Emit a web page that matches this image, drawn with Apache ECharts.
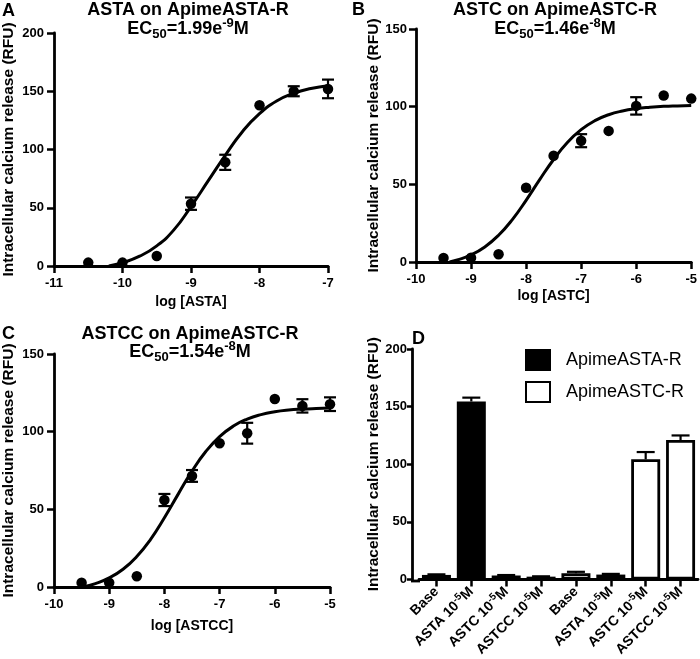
<!DOCTYPE html>
<html>
<head>
<meta charset="utf-8">
<script src="https://cdn.jsdelivr.net/npm/echarts@6/dist/echarts.min.js"></script>
<style>
  html, body { margin: 0; padding: 0; background: #fff; }
  #chartmain { width: 700px; height: 659px; }
</style>
</head>
<body>
<div id="chartmain"></div>
<script>
// Panel A: ASTA on ApimeASTA-R
var aDose = [-10.5, -10, -9.5, -9, -8.5, -8, -7.5, -7];
var aResp = [2.9, 2.9, 8.6, 53.5, 89, 138, 150, 152];
var aErr = [0, 0, 0, 5.3, 6.5, 0, 4.3, 8];
var aFitX = [-10.2, -10, -9.75, -9.5, -9.25, -9, -8.75, -8.5, -8.25, -8, -7.75, -7.5, -7.25, -7];
var aFitY = [0, 2.8, 8.4, 17.3, 31, 51, 73, 95, 115.3, 130.8, 141.6, 148.3, 152.4, 154.8];

// Panel B: ASTC on ApimeASTC-R
var bDose = [-9.5, -9, -8.5, -8, -7.5, -7, -6.5, -6, -5.5, -5];
var bResp = [2.6, 2.8, 5, 47.8, 68.4, 78.1, 84.4, 100.5, 107.2, 105.2];
var bErr = [0, 0, 0, 0, 0, 4.2, 0, 5.6, 0, 0];
var bFitX = [-9.39, -9.25, -9, -8.75, -8.5, -8.25, -8, -7.75, -7.5, -7.25, -7, -6.75, -6.5, -6.25, -6, -5.75, -5.5, -5.25, -5];
var bFitY = [0, 1.3, 4.6, 9.7, 17.2, 27.3, 39.7, 53.2, 66, 77, 85.2, 91, 94.8, 97.2, 98.7, 99.6, 100.2, 100.5, 100.7];

// Panel C: ASTCC on ApimeASTC-R
var cDose = [-9.5, -9, -8.5, -8, -7.5, -7, -6.5, -6, -5.5, -5];
var cResp = [2.8, 2.8, 6.9, 56, 71.5, 92.5, 99, 121, 116.6, 117.7];
var cErr = [0, 0, 0, 3.9, 3.8, 0, 6.7, 0, 4.3, 4.4];
var cFitX = [-9.47, -9.25, -9, -8.75, -8.5, -8.25, -8, -7.75, -7.5, -7.25, -7, -6.75, -6.5, -6.25, -6, -5.75, -5.5, -5.25, -5];
var cFitY = [0, 2.2, 5.9, 11.4, 19.6, 30.7, 44.6, 59.8, 74.6, 87.2, 96.8, 103.6, 108.1, 111, 112.8, 113.9, 114.5, 114.9, 115.2];

// Panel D: bars
var dCats = ['Base', 'ASTA 10-5M', 'ASTC 10-5M', 'ASTCC 10-5M', 'Base', 'ASTA 10-5M', 'ASTC 10-5M', 'ASTCC 10-5M'];
var dAstaR = [4, 154.5, 3.5, 2.5, '-', '-', '-', '-'];
var dAstcR = ['-', '-', '-', '-', 5.5, 4.3, 104.3, 121];
var dErr = [0.5, 3.3, 0.4, 0.3, 1.2, 0.6, 6.3, 4];

var yName = 'Intracellular calcium release (RFU)';
var FONT = '"Liberation Sans", Arial, sans-serif';

function pts(xs, ys) {
  var out = [];
  for (var i = 0; i < xs.length; i++) out.push([xs[i], ys[i]]);
  return out;
}
function errPts(xs, ys, es) {
  var out = [];
  for (var i = 0; i < xs.length; i++) {
    if (es[i] > 0) out.push([xs[i], ys[i], es[i]]);
  }
  return out;
}
function errorBar(capHalf, upOnly) {
  return function (params, api) {
    var x = api.value(0), y = api.value(1), e = api.value(2);
    var hi = api.coord([x, y + e]);
    var lo = api.coord([x, upOnly ? y : y - e]);
    var st = { stroke: '#000', lineWidth: 2.2 };
    var kids = [
      { type: 'line', shape: { x1: hi[0], y1: hi[1], x2: lo[0], y2: lo[1] }, style: st },
      { type: 'line', shape: { x1: hi[0] - capHalf, y1: hi[1], x2: hi[0] + capHalf, y2: hi[1] }, style: st }
    ];
    if (!upOnly) {
      kids.push({ type: 'line', shape: { x1: lo[0] - capHalf, y1: lo[1], x2: lo[0] + capHalf, y2: lo[1] }, style: st });
    }
    return { type: 'group', children: kids };
  };
}

var axisLine = { show: true, onZero: false, lineStyle: { color: '#000', width: 2.8 } };
function ticks(len) {
  return { show: true, inside: false, length: len, lineStyle: { color: '#000', width: 2.5 } };
}
var tickFont = { color: '#000', fontSize: 13, fontWeight: 'bold', fontFamily: FONT };
var xNameFont = { color: '#000', fontSize: 14, fontWeight: 'bold', fontFamily: FONT };
var yNameFont = { color: '#000', fontSize: 15.5, fontWeight: 'bold', fontFamily: FONT };

function xVal(idx, min, max, name, gap) {
  return {
    type: 'value', gridIndex: idx, min: min, max: max, interval: 1,
    name: name, nameLocation: 'middle', nameGap: gap, nameTextStyle: xNameFont,
    axisLine: axisLine, axisTick: ticks(7), splitLine: { show: false },
    axisLabel: Object.assign({ margin: 11 }, tickFont)
  };
}
function yVal(idx, max, gap, offset, tickLen, margin) {
  return {
    type: 'value', gridIndex: idx, min: 0, max: max, interval: 50, offset: offset || 0,
    name: yName, nameLocation: 'middle', nameGap: gap, nameTextStyle: yNameFont,
    axisLine: axisLine, axisTick: ticks(tickLen), splitLine: { show: false },
    axisLabel: Object.assign({ margin: margin }, tickFont)
  };
}

var rich = {
  m: { fontSize: 18, fontWeight: 'bold', color: '#000', lineHeight: 24, fontFamily: FONT },
  s: { fontSize: 13, fontWeight: 'bold', color: '#000', lineHeight: 12, verticalAlign: 'bottom', fontFamily: FONT },
  p: { fontSize: 13, fontWeight: 'bold', color: '#000', lineHeight: 12, verticalAlign: 'top', fontFamily: FONT }
};
function titleLine(text, cx, top) {
  return { text: text, left: cx, top: top, textAlign: 'center', padding: 0,
    textStyle: { fontSize: 18, fontWeight: 'bold', color: '#000', fontFamily: FONT } };
}
function ecLine(mant, expo, cx, top) {
  return { text: '{m|EC}{s|50}{m|=' + mant + 'e}{p|' + expo + '}{m|M}', left: cx, top: top,
    textAlign: 'center', padding: 0, textStyle: { rich: rich } };
}
function letter(t, x, y) {
  return { text: t, left: x, top: y, padding: 0,
    textStyle: { fontSize: 18, fontWeight: 'bold', color: '#000', fontFamily: FONT } };
}

function dosePanel(idx, dose, resp, err, fx, fy) {
  return [
    { type: 'line', xAxisIndex: idx, yAxisIndex: idx, data: pts(fx, fy), smooth: true,
      showSymbol: false, lineStyle: { color: '#000', width: 3 }, silent: true },
    { type: 'custom', xAxisIndex: idx, yAxisIndex: idx, data: errPts(dose, resp, err),
      renderItem: errorBar(6, false), silent: true },
    { type: 'scatter', xAxisIndex: idx, yAxisIndex: idx, data: pts(dose, resp),
      symbolSize: 10.5, itemStyle: { color: '#000', opacity: 1 }, silent: true }
  ];
}

var barSt = { borderColor: '#000', borderWidth: 2.8 };

var option = {
  backgroundColor: '#fff',
  animation: false,
  textStyle: { fontFamily: FONT },
  title: [
    letter('A', 2, 2), letter('B', 352, 1), letter('C', 2, 325), letter('D', 412, 330),
    titleLine('ASTA on ApimeASTA-R', 188, 1), ecLine('1.99', '-9', 188, 17),
    titleLine('ASTC on ApimeASTC-R', 555, 1), ecLine('1.46', '-8', 555, 17),
    titleLine('ASTCC on ApimeASTC-R', 190, 325), ecLine('1.54', '-8', 190, 340)
  ],
  grid: [
    { left: 50, top: 33, width: 278, height: 233 },
    { left: 416, top: 29, width: 277, height: 233 },
    { left: 50, top: 354, width: 280, height: 233 },
    { left: 419, top: 349, width: 279, height: 232 }
  ],
  xAxis: [
    xVal(0, -11, -7, 'log [ASTA]', 29),
    xVal(1, -10, -5, 'log [ASTC]', 27),
    xVal(2, -10, -5, 'log [ASTCC]', 32),
    {
      type: 'category', gridIndex: 3, data: dCats,
      axisLine: axisLine, axisTick: Object.assign({ alignWithLabel: true }, ticks(7)),
      splitLine: { show: false },
      axisLabel: {
        rotate: 45, margin: 10, interval: 0,
        formatter: function (v) {
          var m = v.match(/^(.*10)(-5)(M)$/);
          if (!m) return '{a|' + v + '}';
          return '{a|' + m[1] + '}{s|' + m[2] + '}{a|' + m[3] + '}';
        },
        rich: {
          a: { fontSize: 14, fontWeight: 'bold', color: '#000', fontFamily: FONT, lineHeight: 18 },
          s: { fontSize: 10, fontWeight: 'bold', color: '#000', fontFamily: FONT, lineHeight: 10, verticalAlign: 'top' }
        }
      }
    }
  ],
  yAxis: [
    yVal(0, 200, 37, 0, 7, 10),
    yVal(1, 150, 34, 0, 7, 9),
    yVal(2, 150, 37, 0, 7, 10),
    yVal(3, 200, 20, 7, 5, 5)
  ],
  legend: {
    orient: 'vertical', left: 525, top: 349, padding: 0,
    itemWidth: 24, itemHeight: 20, itemGap: 10, icon: 'rect',
    data: ['ApimeASTA-R', 'ApimeASTC-R'],
    textStyle: { fontSize: 18, color: '#000', fontFamily: FONT, padding: [0, 0, 0, 11] },
    selectedMode: false
  },
  graphic: [
    { type: 'line', shape: { x1: 411, y1: 581, x2: 420, y2: 581 }, style: { stroke: '#000', lineWidth: 2.8 } }
  ],
  series: [].concat(
    dosePanel(0, aDose, aResp, aErr, aFitX, aFitY),
    dosePanel(1, bDose, bResp, bErr, bFitX, bFitY),
    dosePanel(2, cDose, cResp, cErr, cFitX, cFitY),
    [
      { name: 'ApimeASTA-R', type: 'bar', xAxisIndex: 3, yAxisIndex: 3, data: dAstaR,
        barWidth: 29, barGap: '-100%', itemStyle: Object.assign({ color: '#000' }, barSt), silent: true },
      { name: 'ApimeASTC-R', type: 'bar', xAxisIndex: 3, yAxisIndex: 3, data: dAstcR,
        barWidth: 29, barGap: '-100%', itemStyle: Object.assign({ color: '#fff' }, barSt), silent: true },
      { type: 'custom', xAxisIndex: 3, yAxisIndex: 3,
        data: dErr.map(function (e, i) {
          var v = dAstaR[i] !== '-' ? dAstaR[i] : dAstcR[i];
          return [i, v, e];
        }),
        renderItem: errorBar(9, true), silent: true, z: 3 }
    ]
  )
};

var myChart = echarts.init(document.getElementById('chartmain'));
myChart.setOption(option);
</script>
</body>
</html>
